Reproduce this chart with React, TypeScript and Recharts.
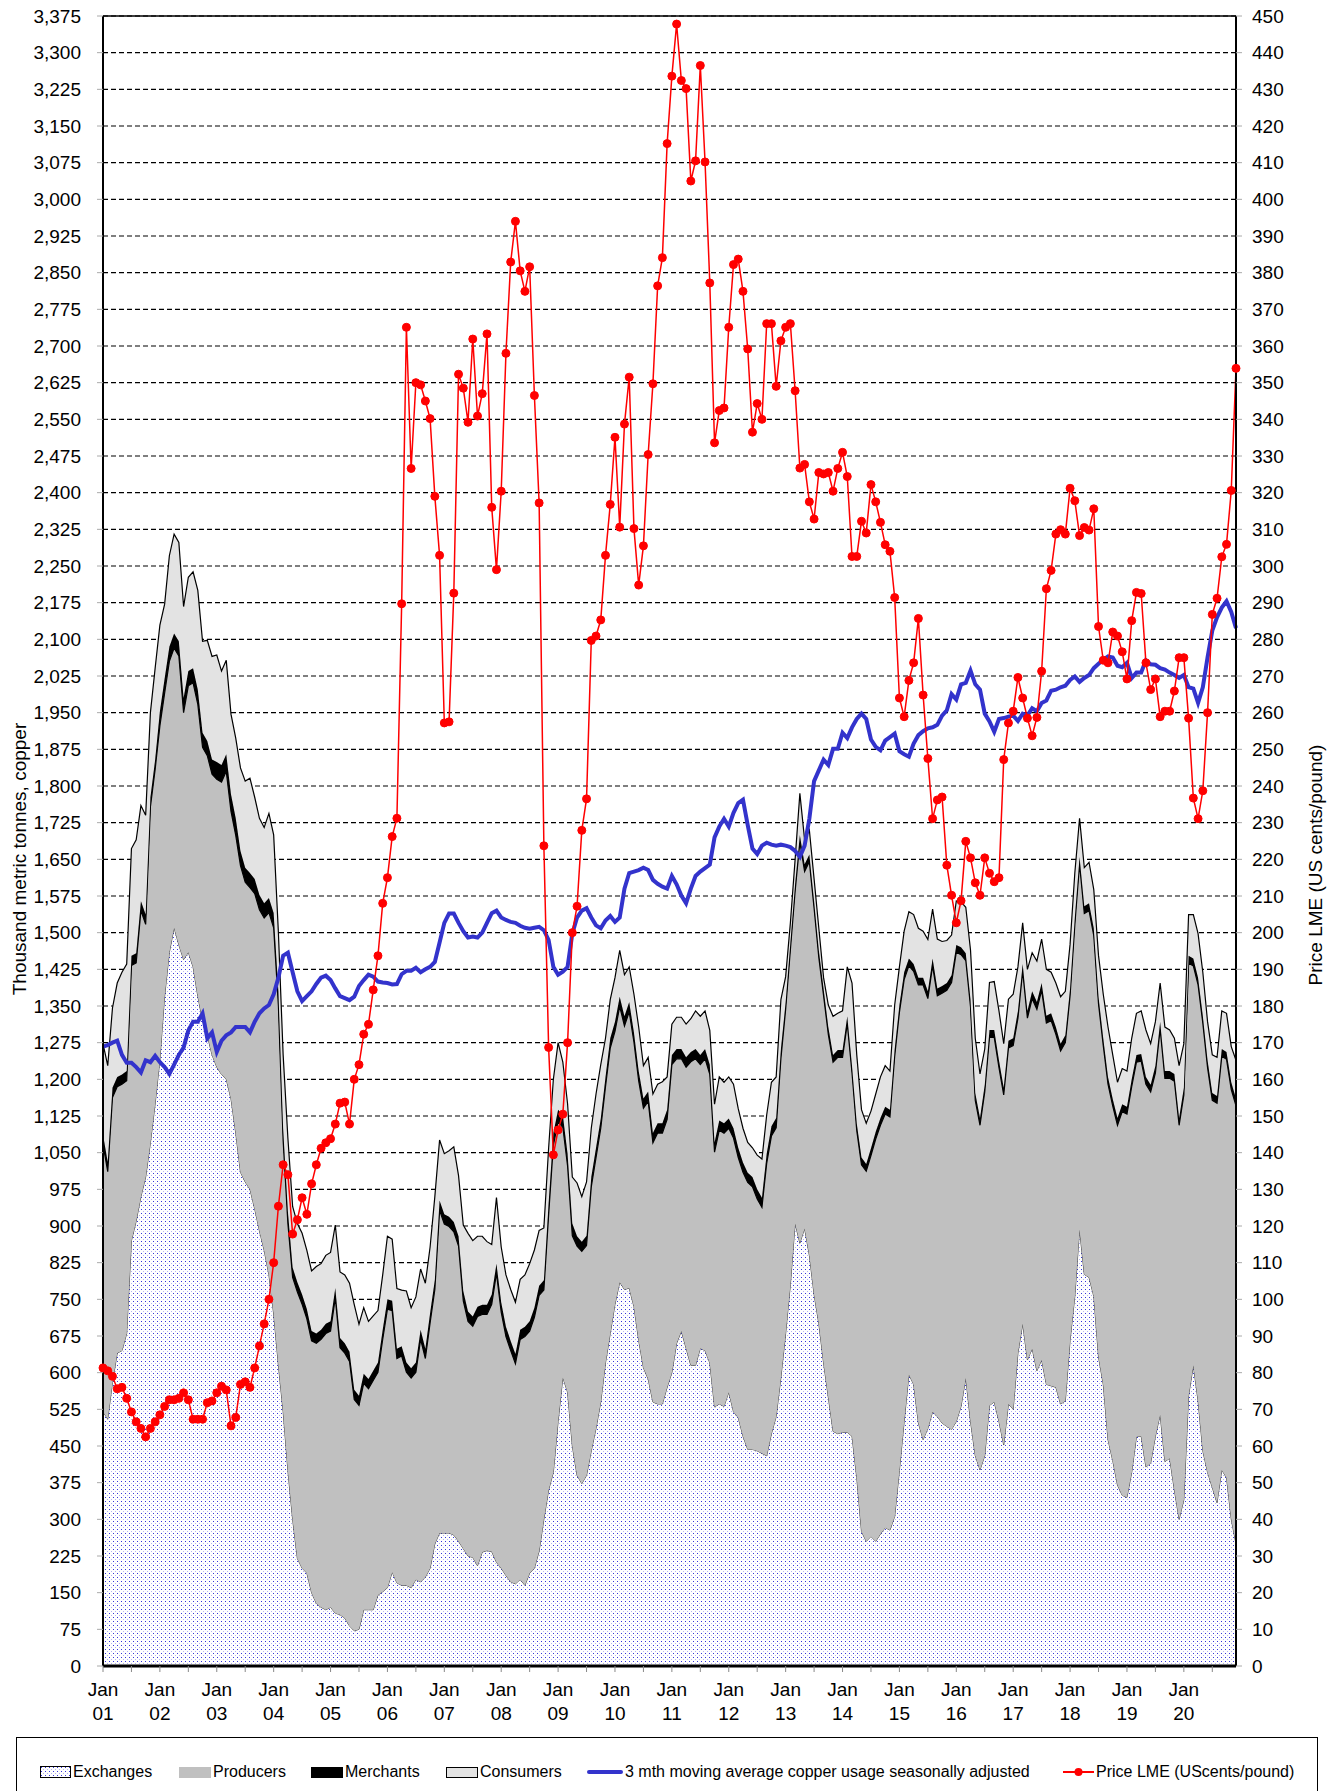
import {
  ComposedChart,
  Area,
  Line,
  XAxis,
  YAxis,
  CartesianGrid,
  ReferenceLine,
} from 'recharts';

const FONT = '"Liberation Sans", Arial, sans-serif';

const YEARS = ['01', '02', '03', '04', '05', '06', '07', '08', '09', '10',
  '11', '12', '13', '14', '15', '16', '17', '18', '19', '20'];
const MONTHS = ['Jan', 'Feb', 'Mar', 'Apr', 'May', 'Jun', 'Jul', 'Aug', 'Sep', 'Oct', 'Nov', 'Dec'];

// thousand tonnes, one row per year (2001 .. 2020)
const exchanges = [
  520, 505, 580, 640, 645, 680, 870, 910, 960, 1000, 1070, 1150,
  1240, 1370, 1460, 1510, 1475, 1445, 1460, 1430, 1370, 1320, 1290, 1250,
  1225, 1210, 1200, 1160, 1090, 1010, 990, 975, 935, 890, 850, 800,
  720, 615, 520, 400, 300, 220, 200, 190, 150, 128, 120, 115,
  120, 108, 105, 98, 82, 72, 75, 115, 115, 115, 145, 152,
  160, 192, 170, 165, 165, 160, 177, 172, 182, 200, 250, 272,
  272, 272, 268, 255, 240, 225, 222, 205, 233, 236, 234, 212,
  200, 185, 172, 168, 177, 165, 190, 200, 235, 300, 360, 396,
  500, 590, 560, 450, 390, 373, 390, 440, 486, 540, 620, 680,
  740, 785, 770, 773, 735, 666, 610, 587, 540, 536, 536, 570,
  600, 660, 685, 650, 615, 615, 650, 645, 620, 530, 536, 531,
  560, 520, 508, 470, 443, 443, 440, 435, 430, 475, 510, 590,
  680, 780, 905, 865, 895, 840, 760, 700, 620, 550, 480, 475,
  478, 478, 470, 385, 275, 255, 265, 255, 270, 283, 278, 306,
  400, 500, 596, 576, 497, 463, 486, 520, 510, 497, 490, 484,
  500, 531, 589, 500, 430, 401, 430, 533, 540, 500, 452, 536,
  525, 640, 700, 626, 649, 604, 626, 576, 573, 570, 536, 542,
  666, 756, 893, 801, 795, 756, 632, 576, 463, 420, 370, 349,
  345, 396, 469, 470, 407, 415, 470, 514, 418, 425, 360, 300,
  340, 553, 615, 542, 440, 396, 365, 334, 401, 385, 300, 250,
];

const producers = [
  547, 506, 583, 545, 545, 517, 563, 528, 585, 517, 687, 684,
  683, 620, 595, 572, 591, 505, 545, 581, 597, 559, 572, 574,
  589, 598, 630, 588, 609, 627, 613, 617, 645, 657, 680, 741,
  790, 735, 555, 505, 495, 545, 540, 520, 515, 532, 548, 565,
  565, 645, 546, 542, 541, 473, 458, 463, 452, 469, 456, 516,
  570, 535, 459, 469, 436, 429, 424, 496, 447, 502, 520, 660,
  632, 627, 620, 604, 507, 480, 473, 510, 486, 483, 506, 591,
  524, 489, 473, 450, 491, 509, 495, 513, 523, 469, 562, 669,
  613, 512, 463, 430, 469, 475, 470, 540, 554, 560, 565, 584,
  558, 564, 539, 565, 541, 531, 531, 568, 530, 554, 554, 548,
  630, 582, 557, 575, 621, 627, 580, 597, 590, 521, 560, 559,
  540, 560, 532, 540, 546, 537, 515, 503, 598, 609, 591, 652,
  663, 685, 680, 820, 730, 805, 790, 749, 751, 742, 755, 770,
  767, 836, 743, 710, 750, 757, 779, 823, 836, 846, 845, 941,
  937, 904, 836, 845, 896, 930, 879, 912, 861, 879, 892, 914,
  960, 924, 854, 848, 727, 705, 744, 753, 746, 724, 716, 728,
  744, 685, 721, 699, 716, 739, 756, 739, 747, 722, 722, 733,
  705, 760, 747, 738, 750, 738, 722, 693, 727, 725, 736, 785,
  784, 789, 766, 767, 783, 759, 743, 789, 784, 777, 836, 806,
  828, 885, 817, 851, 875, 828, 792, 817, 846, 856, 879, 896,
];

const merchants = [
  20, 20, 20, 20, 20, 20, 20, 20, 20, 20, 20, 20,
  30, 30, 30, 30, 30, 30, 30, 30, 30, 30, 30, 30,
  35, 35, 35, 35, 35, 30, 30, 30, 30, 30, 30, 30,
  30, 30, 25, 25, 20, 20, 20, 20, 20, 20, 20, 20,
  20, 20, 20, 20, 20, 20, 20, 20, 20, 20, 20, 20,
  20, 20, 20, 20, 20, 20, 20, 20, 20, 20, 20, 20,
  20, 20, 20, 20, 20, 20, 20, 20, 20, 20, 20, 20,
  20, 20, 20, 20, 20, 20, 20, 20, 20, 20, 25, 25,
  25, 25, 25, 25, 20, 20, 20, 20, 20, 20, 20, 20,
  20, 20, 20, 20, 20, 20, 20, 20, 20, 20, 20, 20,
  20, 20, 20, 20, 20, 20, 20, 20, 20, 20, 20, 20,
  20, 20, 20, 20, 20, 20, 20, 20, 20, 20, 20, 20,
  15, 15, 15, 15, 15, 15, 15, 15, 15, 15, 15, 15,
  15, 15, 15, 15, 15, 15, 15, 15, 15, 15, 15, 15,
  15, 15, 15, 15, 15, 15, 15, 15, 15, 15, 15, 15,
  15, 15, 15, 15, 15, 15, 15, 15, 15, 15, 15, 15,
  15, 15, 15, 15, 15, 15, 15, 15, 15, 15, 15, 15,
  15, 15, 15, 15, 15, 15, 15, 15, 15, 15, 15, 15,
  15, 15, 15, 15, 15, 15, 15, 15, 15, 15, 15, 15,
  15, 15, 15, 15, 15, 15, 15, 15, 15, 15, 15, 15,
];

const consumers = [
  186, 197, 163, 192, 209, 219, 219, 232, 195, 203, 173, 187,
  176, 152, 186, 203, 202, 187, 192, 197, 203, 187, 206, 211,
  219, 192, 192, 164, 164, 170, 177, 194, 167, 157, 155, 173,
  160, 120, 150, 150, 125, 120, 125, 120, 123, 137, 135, 140,
  141, 129, 135, 140, 140, 174, 146, 135, 118, 112, 106, 112,
  129, 126, 123, 115, 146, 124, 134, 124, 134, 135, 170, 124,
  124, 135, 154, 124, 135, 160, 155, 144, 140, 129, 102, 135,
  113, 106, 105, 106, 103, 106, 118, 118, 113, 107, 112, 110,
  137, 108, 102, 95, 109, 92, 110, 100, 110, 110, 79, 79,
  90, 95, 85, 72, 78, 90, 67, 70, 80, 80, 85, 67,
  63, 65, 65, 68, 68, 78, 79, 78, 70, 78, 89, 84,
  85, 90, 80, 70, 62, 60, 70, 79, 79, 90, 84, 101,
  52, 40, 50, 85, 50, 50, 45, 45, 22, 45, 79, 75,
  80, 101, 169, 140, 98, 83, 76, 77, 84, 84, 79, 90,
  78, 84, 96, 101, 101, 95, 106, 101, 101, 91, 87, 82,
  90, 93, 94, 101, 112, 90, 73, 97, 99, 101, 90, 85,
  90, 90, 84, 85, 79, 84, 90, 95, 84, 90, 96, 90,
  90, 91, 79, 79, 84, 79, 84, 90, 102, 90, 73, 73,
  73, 84, 85, 88, 96, 84, 90, 79, 90, 84, 73, 107,
  90, 84, 90, 90, 89, 79, 78, 79, 78, 79, 73, 78,
];

// 3 mth moving average copper usage, seasonally adjusted
const usage3m = [
  1267, 1270, 1275, 1279, 1250, 1234, 1234, 1225, 1214, 1239, 1235, 1248,
  1235, 1225, 1211, 1230, 1250, 1265, 1300, 1318, 1318, 1335, 1284, 1296,
  1256, 1279, 1290, 1296, 1307, 1307, 1307, 1296, 1318, 1335, 1345, 1352,
  1374, 1408, 1453, 1459, 1419, 1380, 1360, 1370, 1380, 1395, 1408, 1412,
  1403, 1386, 1370, 1366, 1362, 1369, 1391, 1403, 1414, 1410, 1400, 1398,
  1397, 1394, 1395, 1415, 1422, 1422, 1428, 1419, 1425, 1430, 1440, 1480,
  1520, 1539, 1539, 1520, 1503, 1490, 1492, 1490, 1500, 1520, 1540, 1545,
  1531, 1526, 1522, 1520, 1514, 1510, 1508, 1510, 1512, 1505, 1485, 1430,
  1414, 1420, 1430, 1498, 1531, 1545, 1550, 1531, 1515, 1509, 1525, 1534,
  1522, 1531, 1590, 1622, 1625, 1628, 1633, 1628, 1608, 1600, 1594, 1590,
  1616, 1599, 1576, 1560, 1590, 1616, 1625, 1632, 1639, 1695, 1717, 1733,
  1717, 1745, 1765, 1772, 1720, 1672, 1661, 1678, 1684, 1680, 1678, 1680,
  1678, 1675, 1667, 1655, 1678, 1733, 1810, 1832, 1854, 1843, 1876, 1876,
  1909, 1898, 1920, 1937, 1948, 1937, 1895, 1880, 1873, 1893, 1900, 1907,
  1871, 1865, 1860, 1887, 1904, 1912, 1918, 1920, 1925, 1944, 1955, 1988,
  1977, 2008, 2011, 2036, 2008, 1997, 1948, 1932, 1911, 1937, 1939, 1942,
  1944, 1933, 1948, 1944, 1959, 1953, 1970, 1975, 1995, 1997, 2002, 2005,
  2017, 2024, 2013, 2021, 2027, 2041, 2050, 2058, 2065, 2063, 2046, 2043,
  2052, 2021, 2032, 2032, 2057, 2049, 2048, 2041, 2038, 2032, 2027, 2021,
  2027, 2002, 1999, 1970, 2002, 2063, 2118, 2145, 2165, 2178, 2156, 2123,
];

// LME price, US cents/pound
const priceLME = [
  81.3, 80.5, 79.0, 75.6, 76.0, 73.0, 69.3, 66.6, 64.8, 62.5, 64.8, 66.6,
  68.5, 70.8, 72.6, 72.6, 73.0, 74.5, 72.6, 67.3, 67.3, 67.3, 71.8, 72.3,
  74.5, 76.3, 75.3, 65.5, 67.8, 76.8, 77.5, 76.0, 81.3, 87.3, 93.3, 100,
  110, 125.4, 136.7, 134, 117.8, 121.7, 127.7, 123.2, 131.5, 136.7, 141.2, 142.7,
  143.8, 147.8, 153.5, 153.8, 147.8, 160, 164, 172.3, 175, 184.4, 193.7, 208,
  215, 226.2, 231.2, 289.7, 365.1, 326.6, 350, 349.4, 345, 340.2, 319, 302.9,
  257.2, 257.5, 292.6, 352.3, 348.5, 339.2, 361.9, 340.9, 347, 363.3, 316, 299,
  320.4, 358, 382.9, 394, 380.5, 374.9, 381.6, 346.5, 317.2, 223.7, 168.7, 139.4,
  146.2, 150.5, 170, 200, 207.2, 227.9, 236.5, 279.7, 280.9, 285.3, 302.9, 316.8,
  335.1, 310.6, 338.7, 351.5, 310.2, 294.8, 305.5, 330.4, 349.7, 376.4, 384.1, 415.2,
  433.6, 447.8, 432.4, 430.2, 405, 410.5, 436.5, 410.2, 377.2, 333.6, 342.4, 343.1,
  365.1, 382.2, 383.7, 374.9, 359.2, 336.5, 344.3, 340, 366.1, 366.1, 349, 361.4,
  365.1, 366.1, 347.8, 326.7, 327.7, 317.5, 312.8, 325.5, 325.1, 325.5, 320.4, 326.6,
  331, 324.4, 302.6, 302.6, 312.2, 309, 322.2, 317.5, 311.9, 305.8, 304, 291.4,
  264, 258.9, 268.8, 273.6, 285.7, 264.8, 247.5, 231.1, 236.2, 237, 218.4, 210.2,
  202.7, 208.7, 224.9, 220.4, 213.6, 210.2, 220.4, 216.2, 213.9, 215, 247.2, 257.2,
  260.4, 269.6, 264, 258.5, 253.7, 258.7, 271.3, 293.8, 298.8, 308.7, 309.9, 308.7,
  321.2, 317.8, 308.3, 310.5, 309.8, 315.6, 283.5, 274.3, 273.6, 282, 280.9, 276.6,
  269.2, 285.1, 292.8, 292.5, 273.6, 266.3, 269.2, 258.9, 260.4, 260.4, 265.9, 275,
  275, 258.5, 236.7, 231.1, 238.7, 260, 286.8, 291.2, 302.5, 305.9, 320.6, 353.9,
];

const LEFT_TICKS = Array.from({ length: 46 }, (_, i) => i * 75);
const RIGHT_TICKS = Array.from({ length: 46 }, (_, i) => i * 10);

const data = exchanges.map((e, i) => ({
  month: `${MONTHS[i % 12]} ${YEARS[Math.floor(i / 12)]}`,
  exchanges: e,
  producers: producers[i],
  merchants: merchants[i],
  consumers: consumers[i],
  usage: usage3m[i],
  price: priceLME[i],
}));

// tick marks every 6 months, labels only on January
const X_TICKS = data.filter((_, i) => i % 6 === 0).map((d) => d.month);

const MonthTick = (props: any) => {
  const { x, y, payload } = props;
  const [mon, yr] = String(payload.value).split(' ');
  if (mon !== 'Jan') return <g />;
  return (
    <g>
      <text x={x} y={y + 22} textAnchor="middle" fontSize={19} fill="#000" fontFamily={FONT}>
        {mon}
      </text>
      <text x={x} y={y + 46} textAnchor="middle" fontSize={19} fill="#000" fontFamily={FONT}>
        {yr}
      </text>
    </g>
  );
};

const DotSwatch = () => (
  <svg width={31} height={12} style={{ display: 'block' }}>
    <rect x={0.5} y={0.5} width={30} height={11} fill="url(#exDots)" stroke="#000" />
  </svg>
);

const legendItems = [
  { left: 40, text: 'Exchanges', swatch: <DotSwatch /> },
  { left: 179, text: 'Producers', swatch: <div style={{ width: 32, height: 11, background: '#c0c0c0' }} /> },
  { left: 311, text: 'Merchants', swatch: <div style={{ width: 32, height: 11, background: '#000' }} /> },
  {
    left: 446,
    text: 'Consumers',
    swatch: <div style={{ width: 30, height: 9, background: '#e3e3e3', border: '1px solid #000' }} />,
  },
  {
    left: 587,
    text: '3 mth moving average copper usage seasonally adjusted',
    swatch: <div style={{ width: 36, height: 4, background: '#3333cc', borderRadius: 2 }} />,
  },
  {
    left: 1063,
    text: 'Price LME (UScents/pound)',
    swatch: (
      <svg width={31} height={12} style={{ display: 'block' }}>
        <line x1={0} y1={6} x2={31} y2={6} stroke="#ff0000" strokeWidth={2} />
        <circle cx={15.5} cy={6} r={4} fill="#ff0000" />
      </svg>
    ),
  },
];

export default function App() {
  return (
    <div
      style={{
        position: 'absolute',
        left: 0,
        top: 0,
        width: 1339,
        height: 1791,
        background: '#fff',
        fontFamily: FONT,
        overflow: 'hidden',
      }}
    >
      <svg width={0} height={0} style={{ position: 'absolute' }}>
        <defs>
          <pattern id="exDots" patternUnits="userSpaceOnUse" width={4} height={4}>
            <rect width={4} height={4} fill="#ffffff" />
            <rect x={1} y={1} width={1} height={1} fill="#3535d8" />
            <rect x={3} y={3} width={1} height={1} fill="#b4b4f0" />
          </pattern>
        </defs>
      </svg>

      <ComposedChart
        width={1339}
        height={1730}
        data={data}
        margin={{ top: 16, right: 0, left: 0, bottom: 0 }}
      >
        <CartesianGrid
          yAxisId="left"
          vertical={false}
          stroke="#000"
          strokeWidth={1.1}
          strokeDasharray="5 3"
        />
        <XAxis
          dataKey="month"
          scale="point"
          ticks={X_TICKS}
          interval={0}
          height={64}
          tick={<MonthTick />}
          tickSize={6}
          tickLine={{ stroke: '#888' }}
          axisLine={{ stroke: '#000', strokeWidth: 3 }}
        />
        <YAxis
          yAxisId="left"
          width={103}
          domain={[0, 3375]}
          ticks={LEFT_TICKS}
          interval={0}
          tickFormatter={(v: number) => v.toLocaleString('en-US')}
          tick={{ fontSize: 19, fill: '#000', fontFamily: FONT }}
          tickSize={6}
          tickMargin={16}
          tickLine={{ stroke: '#aaa' }}
          axisLine={{ stroke: '#000', strokeWidth: 2 }}
        />
        <YAxis
          yAxisId="right"
          orientation="right"
          width={103}
          domain={[0, 450]}
          ticks={RIGHT_TICKS}
          interval={0}
          tick={{ fontSize: 19, fill: '#000', fontFamily: FONT }}
          tickSize={6}
          tickMargin={10}
          tickLine={{ stroke: '#aaa' }}
          axisLine={{ stroke: '#000', strokeWidth: 2 }}
        />
        <ReferenceLine yAxisId="left" y={3375} stroke="#000" strokeWidth={1.5} />

        <Area
          yAxisId="left"
          type="linear"
          dataKey="exchanges"
          stackId="stocks"
          fill="url(#exDots)"
          fillOpacity={1}
          stroke="#444"
          strokeWidth={1}
          isAnimationActive={false}
          activeDot={false}
        />
        <Area
          yAxisId="left"
          type="linear"
          dataKey="producers"
          stackId="stocks"
          fill="#c0c0c0"
          fillOpacity={1}
          stroke="#000"
          strokeWidth={1.2}
          isAnimationActive={false}
          activeDot={false}
        />
        <Area
          yAxisId="left"
          type="linear"
          dataKey="merchants"
          stackId="stocks"
          fill="#000"
          fillOpacity={1}
          stroke="#000"
          strokeWidth={1.2}
          isAnimationActive={false}
          activeDot={false}
        />
        <Area
          yAxisId="left"
          type="linear"
          dataKey="consumers"
          stackId="stocks"
          fill="#e3e3e3"
          fillOpacity={1}
          stroke="#000"
          strokeWidth={1.2}
          isAnimationActive={false}
          activeDot={false}
        />
        <Line
          yAxisId="left"
          type="linear"
          dataKey="usage"
          stroke="#3333cc"
          strokeWidth={4}
          dot={false}
          activeDot={false}
          isAnimationActive={false}
        />
        <Line
          yAxisId="right"
          type="linear"
          dataKey="price"
          stroke="#ff0000"
          strokeWidth={1.5}
          dot={{ r: 4, fill: '#ff0000', stroke: '#ff0000', strokeWidth: 1 }}
          activeDot={false}
          isAnimationActive={false}
        />
      </ComposedChart>

      <div
        style={{
          position: 'absolute',
          left: 20,
          top: 859,
          transform: 'translate(-50%, -50%) rotate(-90deg)',
          whiteSpace: 'nowrap',
          fontSize: 19,
          color: '#000',
        }}
      >
        Thousand metric tonnes, copper
      </div>
      <div
        style={{
          position: 'absolute',
          left: 1316,
          top: 865,
          transform: 'translate(-50%, -50%) rotate(-90deg)',
          whiteSpace: 'nowrap',
          fontSize: 19,
          color: '#000',
        }}
      >
        Price LME (US cents/pound)
      </div>

      <div
        style={{
          position: 'absolute',
          left: 16,
          top: 1737,
          width: 1302,
          height: 70,
          border: '1.5px solid #000',
          boxSizing: 'border-box',
        }}
      />
      {legendItems.map((it) => (
        <div
          key={it.text}
          style={{
            position: 'absolute',
            left: it.left,
            top: 1772,
            transform: 'translateY(-50%)',
            display: 'flex',
            alignItems: 'center',
            gap: 2,
            fontSize: 16,
            whiteSpace: 'nowrap',
            color: '#000',
          }}
        >
          {it.swatch}
          <span>{it.text}</span>
        </div>
      ))}
    </div>
  );
}
